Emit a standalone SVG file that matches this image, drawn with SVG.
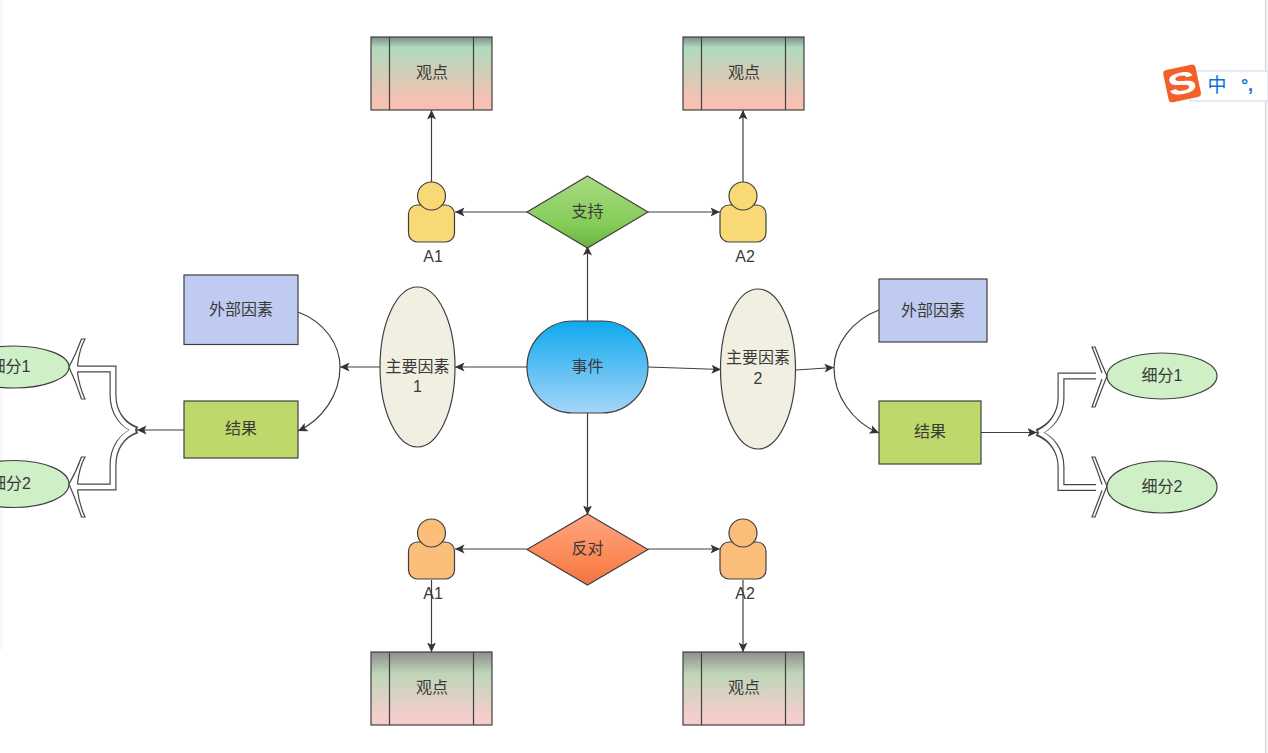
<svg xmlns="http://www.w3.org/2000/svg" width="1268" height="753" viewBox="0 0 1268 753">
<style>
text{font-family:"Liberation Sans","Noto Sans CJK SC",sans-serif;font-size:16px;fill:#3a3a3a;text-anchor:middle;dominant-baseline:central}
.s{stroke:#404040;stroke-width:1.2}
.c{fill:none;stroke:#3f3f3f;stroke-width:1.2}
.o{fill:none;stroke:#484848;stroke-width:7}
.i{fill:none;stroke:#fff;stroke-width:4.6}
.h{fill:#fff;stroke:#484848;stroke-width:1.2}
.g{fill:#cff0c6}
</style>
<defs>
<marker id="a" markerWidth="11" markerHeight="10" refX="9.500" refY="5" orient="auto" markerUnits="userSpaceOnUse"><path d="M0 0.500L9.500 5L0 9.500L2.200 5Z" fill="#333"/></marker>
<linearGradient id="g1" x1="0" y1="0" x2="0" y2="1"><stop offset="0" stop-color="#7f8a86"/><stop offset=".14" stop-color="#aedbbd"/><stop offset=".85" stop-color="#f5c1b3"/></linearGradient>
<linearGradient id="g2" x1="0" y1="0" x2="0" y2="1"><stop offset="0" stop-color="#8e8e8e"/><stop offset=".3" stop-color="#bfd6b8"/><stop offset=".9" stop-color="#f6cdcd"/></linearGradient>
<linearGradient id="d1" x1="0" y1="0" x2="0" y2="1"><stop offset="0" stop-color="#a9da84"/><stop offset=".7" stop-color="#82cc55"/><stop offset="1" stop-color="#6bb045"/></linearGradient>
<linearGradient id="d2" x1="0" y1="0" x2="0" y2="1"><stop offset="0" stop-color="#ffa582"/><stop offset=".7" stop-color="#fb8550"/><stop offset="1" stop-color="#ee7445"/></linearGradient>
<linearGradient id="e" x1="0" y1="0" x2="0" y2="1"><stop offset="0" stop-color="#0ea9ee"/><stop offset="1" stop-color="#a6d5f8"/></linearGradient>
<g id="p"><rect x="0" y="23" width="46" height="37" rx="9"/><circle cx="23" cy="14" r="14"/></g>
</defs>
<rect width="1268" height="753" fill="#fff"/>
<rect x="0" y="0" width="3" height="650" fill="#f9f9f9"/>
<rect x="1266" y="0" width="2" height="753" fill="#f2f2f2"/>
<rect x="1265" y="0" width="1" height="753" fill="#d4d4d4"/>

<g id="connectors">
<path class="c" marker-end="url(#a)" d="M587.500 321V246"/>
<path class="c" marker-end="url(#a)" d="M587.500 413V515"/>
<path class="c" marker-end="url(#a)" d="M527 367H455"/>
<path class="c" marker-end="url(#a)" d="M648 367L721 369.500"/>
<path class="c" marker-end="url(#a)" d="M527 212H455"/>
<path class="c" marker-end="url(#a)" d="M648 212H720"/>
<path class="c" marker-end="url(#a)" d="M527 549H455"/>
<path class="c" marker-end="url(#a)" d="M648 549H720"/>
<path class="c" marker-end="url(#a)" d="M431.500 182V110"/>
<path class="c" marker-end="url(#a)" d="M743 182V110"/>
<path class="c" marker-end="url(#a)" d="M431.500 580V652"/>
<path class="c" marker-end="url(#a)" d="M743 580V652"/>
<path class="c" marker-end="url(#a)" d="M380 367H340"/>
<path class="c" d="M298 312C325 322 340 345 340 367"/>
<path class="c" marker-end="url(#a)" d="M340 367C340 395 322 420 298 431"/>
<path class="c" marker-end="url(#a)" d="M796 370L834 367.500"/>
<path class="c" d="M879 310C852 320 834 345 834 368"/>
<path class="c" marker-end="url(#a)" d="M834 368C834 395 852 422 879 433"/>
<path class="c" marker-end="url(#a)" d="M184 430H137"/>
<path class="c" marker-end="url(#a)" d="M981 432.500H1037"/>
<g id="split-left">
<path class="o" d="M137 430C122 425 113 412 113 395V369H76"/>
<path class="o" d="M137 430C122 435 113 448 113 465V487H76"/>
<path class="i" d="M135 430C122 425 113 412 113 395V369H74"/>
<path class="i" d="M135 430C122 435 113 448 113 465V487H74"/>
<path class="h" d="M77.500 366Q79 350 85 339L81.500 339Q76 354 69 367Q76 382 81.500 399L85 399Q79 386 77.500 372"/>
<path class="h" d="M77.500 484Q79 468 85 457L81.500 457Q76 472 69 484Q76 500 81.500 517L85 517Q79 504 77.500 490"/>
</g>
<g id="split-right">
<path class="o" d="M1037 432.500C1051 427 1061 414 1061 398V376H1096"/>
<path class="o" d="M1037 432.500C1051 438 1061 450 1061 467V487.500H1096"/>
<path class="i" d="M1039 432.500C1051 427 1061 414 1061 398V376H1098"/>
<path class="i" d="M1039 432.500C1051 438 1061 450 1061 467V487.500H1098"/>
<path class="h" d="M1102 373Q1097 359 1092 347L1095 347Q1101 363 1107 376Q1101 391 1095 407L1092 407Q1097 393 1102 379"/>
<path class="h" d="M1102 484.500Q1097 469 1092 457L1095 457Q1101 473 1107 486Q1101 501 1095 517L1092 517Q1097 504 1102 490.500"/>
</g>
</g>

<g id="event"><rect class="s" x="527" y="321" width="121" height="92" rx="46" fill="url(#e)"/><text x="587.500" y="366">事件</text></g>
<g id="support"><path class="s" d="M587.500 176L648 212L587.500 248L527 212Z" fill="url(#d1)"/><text x="587.500" y="211">支持</text></g>
<g id="oppose"><path class="s" d="M587.500 514L648 549.500L587.500 585L527 549.500Z" fill="url(#d2)"/><text x="587.500" y="548">反对</text></g>

<g id="factor1"><ellipse class="s" cx="417.500" cy="367" rx="37.500" ry="80" fill="#f1efe2"/><text x="417.500" y="366">主要因素</text><text x="417.500" y="386">1</text></g>
<g id="factor2"><ellipse class="s" cx="758" cy="369" rx="37.500" ry="80" fill="#f1efe2"/><text x="758" y="357">主要因素</text><text x="758" y="378">2</text></g>

<g id="ext1"><rect class="s" x="184" y="275" width="114" height="69.500" fill="#bfcbf0"/><text x="241" y="309">外部因素</text></g>
<g id="res1"><rect class="s" x="184" y="401" width="114" height="57" fill="#bed86c"/><text x="241" y="428">结果</text></g>
<g id="ext2"><rect class="s" x="879" y="279" width="108" height="63" fill="#bfcbf0"/><text x="933" y="310">外部因素</text></g>
<g id="res2"><rect class="s" x="879" y="401" width="102" height="63" fill="#bed86c"/><text x="930" y="431">结果</text></g>

<g id="sub-l1"><ellipse class="s g" cx="14" cy="367" rx="55" ry="21"/><text x="10" y="366">细分1</text></g>
<g id="sub-l2"><ellipse class="s g" cx="14" cy="484" rx="55" ry="23.500"/><text x="10.500" y="483">细分2</text></g>
<g id="sub-r1"><ellipse class="s g" cx="1162" cy="376" rx="55" ry="23"/><text x="1162" y="375">细分1</text></g>
<g id="sub-r2"><ellipse class="s g" cx="1162" cy="487" rx="55" ry="26"/><text x="1162" y="486">细分2</text></g>

<g id="a1-top"><use href="#p" x="408.500" y="182" class="s" fill="#f9d976"/><text x="433" y="256">A1</text></g>
<g id="a2-top"><use href="#p" x="720" y="182" class="s" fill="#f9d976"/><text x="745" y="256">A2</text></g>
<g id="a1-bot"><use href="#p" x="408.500" y="519" class="s" fill="#fbbd7a"/><text x="433" y="593">A1</text></g>
<g id="a2-bot"><use href="#p" x="720" y="519" class="s" fill="#fbbd7a"/><text x="745" y="593">A2</text></g>

<g id="view1"><rect class="s" x="371" y="37" width="121" height="73" fill="url(#g1)"/><path class="s" d="M389.500 37V110M473.500 37V110"/><text x="432" y="72">观点</text></g>
<g id="view2"><rect class="s" x="683" y="37" width="121" height="73" fill="url(#g1)"/><path class="s" d="M701.500 37V110M785.500 37V110"/><text x="744" y="72">观点</text></g>
<g id="view3"><rect class="s" x="371" y="652" width="121" height="73" fill="url(#g2)"/><path class="s" d="M389.500 652V725M473.500 652V725"/><text x="432" y="687">观点</text></g>
<g id="view4"><rect class="s" x="683" y="652" width="121" height="73" fill="url(#g2)"/><path class="s" d="M701.500 652V725M785.500 652V725"/><text x="744" y="687">观点</text></g>

<g id="ime">
<rect x="1190" y="71" width="78" height="30" fill="#fff" stroke="#cdd8ea"/>
<rect x="1165.500" y="67" width="33" height="33" rx="4" fill="#f4602a" transform="rotate(-12 1182 83)"/>
<text x="1182" y="83" transform="rotate(-12 1182 83) translate(1182 83) scale(1.25 .9) translate(-1182 -83)" style="font-size:34px;font-weight:bold;fill:#fff">S</text>
<text x="1217" y="85" style="font-size:19px;fill:#0b6fd6;font-weight:normal">中</text>
<text x="1247" y="85" style="font-size:18px;font-weight:bold;fill:#0b6fd6">°,</text>
</g>
</svg>
